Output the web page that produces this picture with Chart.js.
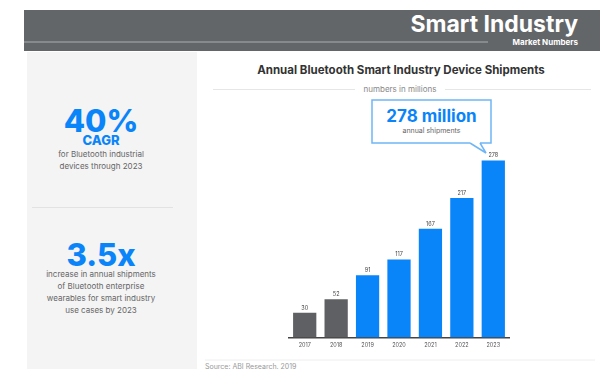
<!DOCTYPE html>
<html>
<head>
<meta charset="utf-8">
<script src="https://cdn.jsdelivr.net/npm/chart.js@4.4.1/dist/chart.umd.min.js"></script>
<style>
  body { margin: 0; width: 600px; height: 369px; overflow: hidden; background: #fff; font-family: 'Inter', 'Lato', sans-serif; position: relative; }
  .abs { position: absolute; }
  #header { left: 24px; top: 10px; width: 576px; height: 41px; background: #636669; }
  #panel { left: 27px; top: 52px; width: 170px; height: 317px; background: #f4f4f4; }
  .big { left: 20px; width: 162px; text-align: center; color: #0a84f9; font-weight: 800; }
  .small { left: 10px; width: 182px; text-align: center; color: #666; font-size: 8px; line-height: 12px; }
  #wrap { left: 280px; top: 140px; width: 240px; height: 215px; }
</style>
</head>
<body>
<div id="header" class="abs">
  <div class="abs" style="right:22px; top:0px; color:#fff; font-size:23px; font-weight:700;">Smart Industry</div>
  <div class="abs" style="left:0; top:31px; width:464px; height:2px; background:#878a8d;"></div>
  <div class="abs" style="right:22px; top:27px; color:#fff; font-size:8px; font-weight:700;">Market Numbers</div>
</div>
<div id="panel" class="abs"></div>
<div class="abs big" style="top:104px; font-size:31px; line-height:34px;">40%</div>
<div class="abs big" style="top:133px; font-size:13px; line-height:15px;">CAGR</div>
<div class="abs small" style="top:148px;">for Bluetooth industrial<br>devices through 2023</div>
<div class="abs" style="left:32px; top:207px; width:141px; height:1px; background:#e2e2e2;"></div>
<div class="abs big" style="top:238px; font-size:31px; line-height:34px;">3.5x</div>
<div class="abs small" style="top:268px;">increase in annual shipments<br>of Bluetooth enterprise<br>wearables for smart industry<br>use cases by 2023</div>

<div class="abs" style="left:200px; top:63px; width:402px; text-align:center; font-size:11.5px; font-weight:700; color:#333;">Annual Bluetooth Smart Industry Device Shipments</div>
<div class="abs" style="left:213px; top:89px; width:142px; height:1px; background:#e6e6e6;"></div>
<div class="abs" style="left:445px; top:89px; width:146px; height:1px; background:#e6e6e6;"></div>
<div class="abs" style="left:355px; top:84px; width:90px; text-align:center; font-size:8px; color:#888;">numbers in millions</div>

<svg class="abs" style="left:0; top:0;" width="600" height="369">
  <path d="M470 143 L372 143 L372 100 L491 100 L491 143 L480 143 M470 143 L486 153 L480 143" fill="none" stroke="#6fb6f6" stroke-width="1.5"/>
  <line x1="205" y1="360" x2="595" y2="360" stroke="#eeeeee" stroke-width="1"/>
</svg>
<div class="abs" style="left:372px; top:106px; width:119px; text-align:center; font-size:17px; font-weight:700; color:#0a84f9;">278 million</div>
<div class="abs" style="left:372px; top:126px; width:119px; text-align:center; font-size:7px; color:#666;">annual shipments</div>
<div class="abs" style="left:205px; top:362px; font-size:7px; color:#999;">Source: ABI Research, 2019</div>

<div id="wrap" class="abs"><canvas id="myChart"></canvas></div>

<script>
var years = ['2017', '2018', '2019', '2020', '2021', '2022', '2023'];
var shipments = [30, 52, 91, 117, 167, 217, 278];
var barColors = ['#5f6063', '#5f6063', '#0a84f9', '#0a84f9', '#0a84f9', '#0a84f9', '#0a84f9'];

var valueLabels = {
    id: 'valueLabels',
    afterDatasetsDraw: function (chart) {
        var ctx = chart.ctx;
        var meta = chart.getDatasetMeta(0);
        ctx.save();
        ctx.font = '5.5px Inter';
        ctx.fillStyle = '#444';
        ctx.textAlign = 'center';
        ctx.textBaseline = 'bottom';
        meta.data.forEach(function (bar, i) {
            ctx.fillText(shipments[i], bar.x, bar.y - 2);
        });
        ctx.restore();
    }
};

var ctx = document.getElementById('myChart').getContext('2d');
var myChart = new Chart(ctx, {
    type: 'bar',
    data: {
        labels: years,
        datasets: [{
            data: shipments,
            backgroundColor: barColors,
            base: -10,
            categoryPercentage: 1,
            barPercentage: 0.74
        }]
    },
    options: {
        responsive: true,
        maintainAspectRatio: false,
        animation: false,
        layout: {
            padding: { left: 9, right: 11, top: 7, bottom: 1 }
        },
        plugins: {
            tooltip: { enabled: false },
            legend: { display: false }
        },
        scales: {
            x: {
                grid: { display: false, drawTicks: false },
                border: { display: true, color: '#444', width: 1.5 },
                ticks: {
                    color: '#555',
                    font: { size: 5.5, family: 'Inter' },
                    padding: 5
                }
            },
            y: {
                display: false,
                min: -10,
                max: 300
            }
        }
    },
    plugins: [valueLabels]
});
</script>
</body>
</html>
